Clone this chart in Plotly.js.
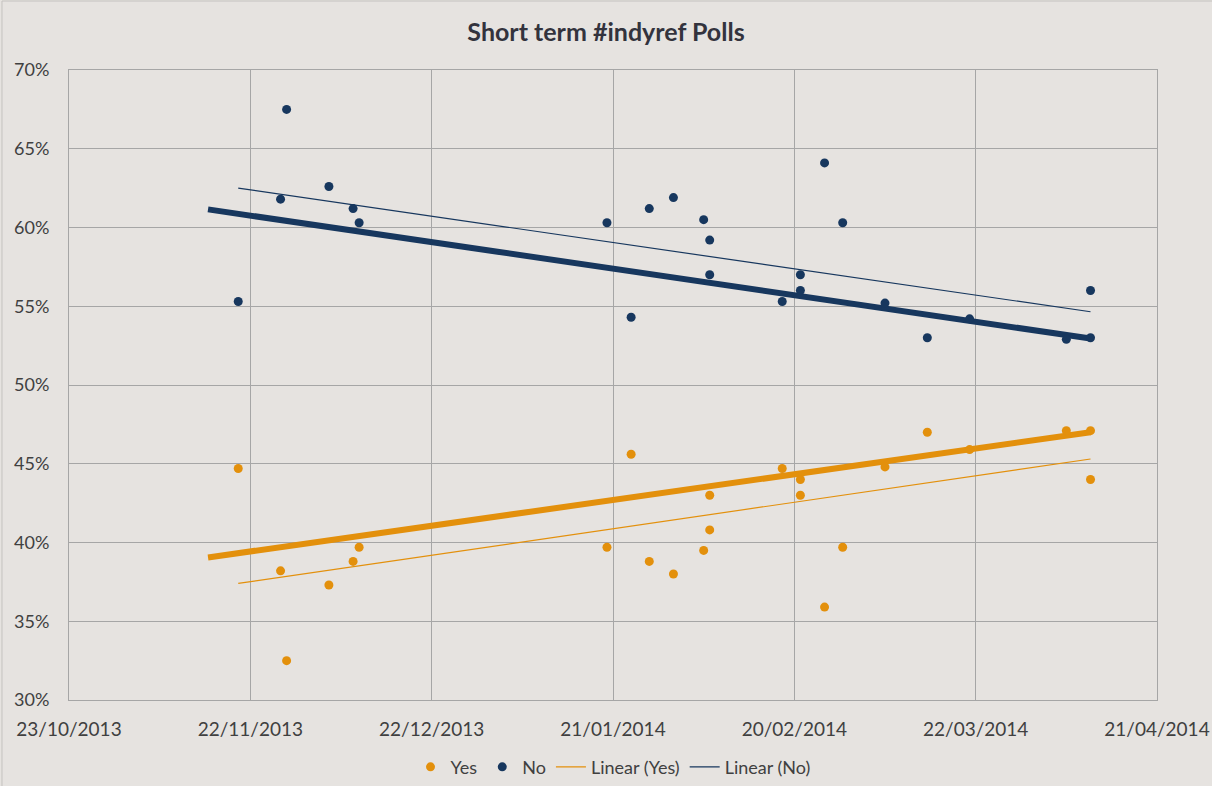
<!DOCTYPE html>
<html>
<head>
<meta charset="utf-8">
<script src="https://cdn.plot.ly/plotly-3.0.1.min.js"></script>
<style>
  html, body { margin: 0; padding: 0; background: #e6e3e0; overflow: hidden; }
</style>
</head>
<body>
<div id="chart"></div>
<script>
'use strict'

// poll dates and results (percent)
const pollDates = ['2013-11-20', '2013-11-27', '2013-11-28', '2013-12-05', '2013-12-09', '2013-12-10',
                   '2014-01-20', '2014-01-24', '2014-01-27', '2014-01-31', '2014-02-05', '2014-02-06',
                   '2014-02-06', '2014-02-18', '2014-02-21', '2014-02-21', '2014-02-25', '2014-02-28',
                   '2014-03-07', '2014-03-14', '2014-03-21', '2014-04-06', '2014-04-10', '2014-04-10'];
const yesVals = [44.7, 38.2, 32.5, 37.3, 38.8, 39.7,
                 39.7, 45.6, 38.8, 38.0, 39.5, 40.8,
                 43.0, 44.7, 43.0, 44.0, 35.9, 39.7,
                 44.8, 47.0, 45.9, 47.1, 47.1, 44.0];
const noVals = [55.3, 61.8, 67.5, 62.6, 61.2, 60.3,
                60.3, 54.3, 61.2, 61.9, 60.5, 59.2,
                57.0, 55.3, 57.0, 56.0, 64.1, 60.3,
                55.2, 53.0, 54.2, 52.9, 53.0, 56.0];

// trendline end points
const linDates = ['2013-11-20', '2014-04-10'];
const linYes = [37.4, 45.3];
const linNo = [62.5, 54.65];

const boldDates = ['2013-11-15', '2014-04-10'];
const boldYes = [39.05, 47.0];
const boldNo = [61.15, 52.95];

const tickDates = ['2013-10-23', '2013-11-22', '2013-12-22', '2014-01-21', '2014-02-20', '2014-03-22', '2014-04-21'];
const tickLabels = ['23/10/2013', '22/11/2013', '22/12/2013', '21/01/2014', '20/02/2014', '22/03/2014', '21/04/2014'];
const yTicks = [30, 35, 40, 45, 50, 55, 60, 65, 70];
const yLabels = ['30%', '35%', '40%', '45%', '50%', '55%', '60%', '65%', '70%'];

const yesColor = '#e3900c',
      noColor = '#17375e';

let traces = [
    {x: boldDates, y: boldYes, type: 'scatter', mode: 'lines', showlegend: false,
     line: {color: yesColor, width: 6}, hoverinfo: 'skip'},
    {x: boldDates, y: boldNo, type: 'scatter', mode: 'lines', showlegend: false,
     line: {color: noColor, width: 6}, hoverinfo: 'skip'},
    {x: pollDates, y: yesVals, name: 'Yes', type: 'scatter', mode: 'markers',
     marker: {color: yesColor, size: 9}},
    {x: pollDates, y: noVals, name: 'No', type: 'scatter', mode: 'markers',
     marker: {color: noColor, size: 9}},
    {x: linDates, y: linYes, name: 'Linear (Yes)', type: 'scatter', mode: 'lines',
     line: {color: yesColor, width: 1.2}},
    {x: linDates, y: linNo, name: 'Linear (No)', type: 'scatter', mode: 'lines',
     line: {color: noColor, width: 1.2}}
];

// outer chart frame (top and left edges only are visible in the crop)
let frameColor = '#c4c2bf';

let layout = {
    width: 1212,
    height: 786,
    margin: {l: 69, r: 55, t: 70, b: 86},
    paper_bgcolor: '#e6e3e0',
    plot_bgcolor: 'rgba(0,0,0,0)',
    font: {family: 'Lato, "Open Sans", sans-serif', color: '#404040', size: 19},
    title: {
        text: '<b>Short term #indyref Polls</b>',
        font: {family: 'Lato, "Open Sans", sans-serif', size: 25, color: '#33333d'},
        x: 0.5, xanchor: 'center', y: 0.959, yanchor: 'middle'
    },
    xaxis: {
        type: 'date',
        range: ['2013-10-23', '2014-04-21'],
        tickvals: tickDates,
        ticktext: tickLabels,
        showgrid: true,
        gridcolor: '#a6a6a6',
        gridwidth: 1,
        showline: true,
        linecolor: '#a6a6a6',
        mirror: true,
        zeroline: false,
        ticks: 'outside',
        ticklen: 12,
        tickcolor: 'rgba(0,0,0,0)',
        tickfont: {size: 19, color: '#404040'}
    },
    yaxis: {
        range: [30, 70],
        tickvals: yTicks,
        ticktext: yLabels,
        showgrid: true,
        gridcolor: '#a6a6a6',
        gridwidth: 1,
        showline: true,
        linecolor: '#a6a6a6',
        mirror: true,
        zeroline: false,
        ticks: 'outside',
        ticklen: 15,
        tickcolor: 'rgba(0,0,0,0)',
        tickfont: {size: 18, color: '#404040'}
    },
    legend: {
        orientation: 'h',
        x: 0.5, xanchor: 'center',
        yref: 'container',
        y: 0.024, yanchor: 'middle',
        font: {size: 18, color: '#404040'},
        itemwidth: 30,
        bgcolor: 'rgba(0,0,0,0)'
    },
    shapes: [
        {type: 'line', xref: 'paper', yref: 'paper', x0: -0.0616, x1: 1.06, y0: 1.1095, y1: 1.1095,
         line: {color: frameColor, width: 1}},
        {type: 'line', xref: 'paper', yref: 'paper', x0: -0.0616, x1: -0.0616, y0: -0.2, y1: 1.1095,
         line: {color: frameColor, width: 1}}
    ],
    showlegend: true
};

Plotly.newPlot('chart', traces, layout, {displayModeBar: false, staticPlot: true});
</script>
</body>
</html>
